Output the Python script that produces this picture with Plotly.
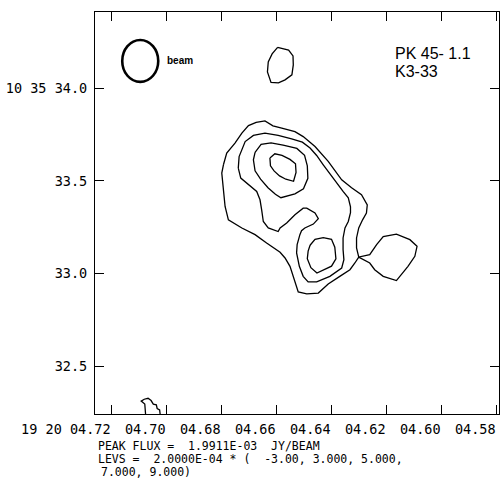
import plotly.graph_objects as go

# ---------------- axis data ----------------
ra_ticks = [4.72, 4.70, 4.68, 4.66, 4.64, 4.62, 4.60, 4.58]
ra_ticktext = ["19 20 04.72", "04.70", "04.68", "04.66", "04.64", "04.62", "04.60", "04.58"]
dec_ticks = [34.0, 33.5, 33.0, 32.5]
dec_ticktext = ["10 35 34.0", "33.5", "33.0", "32.5"]
ra_range = [4.7261, 4.5792]      # RA seconds (19h20m), east to the left
dec_range = [32.2424, 34.4111]   # Dec arcsec (+10d35m)

# ---------------- contour paths (RA s, Dec ") ----------------
# 3 sigma, main source incl. eastern knot touching it
c3_main_ra = [4.6794, 4.6782, 4.6752, 4.6727, 4.6703, 4.6675, 4.6643, 4.6614, 4.6582, 4.6534,
              4.6504, 4.6461, 4.6413, 4.6364, 4.6328, 4.6292, 4.6271, 4.6274, 4.6288, 4.6302,
              4.6310, 4.6310, 4.6302,
              4.6262, 4.6237, 4.6213, 4.6165, 4.6116, 4.6090, 4.6098, 4.6123, 4.6165, 4.6213,
              4.6244, 4.6262, 4.6292, 4.6302,
              4.6316, 4.6334, 4.6371, 4.6413, 4.6449, 4.6491, 4.6522, 4.6530, 4.6540, 4.6552,
              4.6570, 4.6588, 4.6637, 4.6679, 4.6727, 4.6776, 4.6788, 4.6794, 4.6800, 4.6794]
c3_main_dec = [33.587, 33.650, 33.704, 33.758, 33.798, 33.816, 33.824, 33.797, 33.784, 33.766,
               33.739, 33.685, 33.605, 33.506, 33.463, 33.425, 33.371, 33.327, 33.290, 33.246,
               33.192, 33.138, 33.089,
               33.102, 33.156, 33.200, 33.213, 33.183, 33.147, 33.093, 33.039, 32.962, 32.985,
               33.021, 33.057, 33.080, 33.089,
               33.057, 33.021, 32.985, 32.944, 32.895, 32.890, 32.901, 32.940, 32.985, 33.039,
               33.084, 33.115, 33.165, 33.210, 33.246, 33.290, 33.362, 33.452, 33.542, 33.587]

# 3 sigma, small island north
c3_north_ra = [4.6597, 4.6557, 4.6541, 4.6540, 4.6545, 4.6570, 4.6594, 4.6621, 4.6634, 4.6631, 4.6617, 4.6597]
c3_north_dec = [34.220, 34.206, 34.174, 34.126, 34.072, 34.045, 34.029, 34.031, 34.088, 34.142, 34.185, 34.220]

# 3 sigma, open island at the southern map edge
c3_edge_ra = [4.7077, 4.7080, 4.7093, 4.7082, 4.7068, 4.7057, 4.7049, 4.7038, 4.7035, 4.7026, 4.7024]
c3_edge_dec = [32.240, 32.296, 32.312, 32.322, 32.327, 32.315, 32.296, 32.292, 32.272, 32.264, 32.240]

# 5 sigma
c5_ra = [4.6740, 4.6737, 4.6715, 4.6685, 4.6643, 4.6595, 4.6546, 4.6507, 4.6479, 4.6455,
         4.6431, 4.6407, 4.6383, 4.6359, 4.6340, 4.6332, 4.6332, 4.6340, 4.6352, 4.6359,
         4.6359, 4.6356, 4.6364, 4.6407, 4.6455, 4.6486, 4.6504, 4.6518, 4.6528, 4.6526,
         4.6516, 4.6510, 4.6498, 4.6467, 4.6449, 4.6461, 4.6491, 4.6504, 4.6534, 4.6564,
         4.6588, 4.6595, 4.6631, 4.6649, 4.6655, 4.6661, 4.6673, 4.6703, 4.6731, 4.6740]
c5_dec = [33.569, 33.631, 33.712, 33.745, 33.758, 33.745, 33.727, 33.709, 33.677, 33.637,
          33.587, 33.537, 33.488, 33.443, 33.409, 33.360, 33.328, 33.281, 33.246, 33.192,
          33.129, 33.075, 33.030, 32.985, 32.955, 32.955, 32.985, 33.039, 33.111, 33.156,
          33.210, 33.231, 33.246, 33.267, 33.296, 33.327, 33.353, 33.353, 33.317, 33.273,
          33.246, 33.227, 33.246, 33.281, 33.344, 33.398, 33.443, 33.479, 33.515, 33.569]

# 7 sigma, northern peak
c7_north_ra = [4.6679, 4.6657, 4.6621, 4.6577, 4.6527, 4.6499, 4.6489, 4.6487, 4.6503,
               4.6534, 4.6585, 4.6605, 4.6632, 4.6659, 4.6679, 4.6685, 4.6679]
c7_north_dec = [33.654, 33.697, 33.705, 33.693, 33.675, 33.638, 33.581, 33.514, 33.457,
                33.430, 33.409, 33.428, 33.463, 33.509, 33.554, 33.614, 33.654]

# 7 sigma, southern peak
c7_south_ra = [4.6479, 4.6461, 4.6431, 4.6401, 4.6389, 4.6385, 4.6401, 4.6438, 4.6454,
               4.6476, 4.6489, 4.6486, 4.6479]
c7_south_dec = [33.153, 33.185, 33.194, 33.185, 33.142, 33.080, 33.040, 33.013, 33.003,
                33.032, 33.080, 33.121, 33.153]

# 9 sigma, northern peak
c9_ra = [4.6625, 4.6607, 4.6581, 4.6552, 4.6532, 4.6530, 4.6539, 4.6567, 4.6590, 4.6610, 4.6623, 4.6625]
c9_dec = [33.624, 33.646, 33.638, 33.616, 33.592, 33.546, 33.498, 33.509, 33.527, 33.554, 33.581, 33.624]

# beam (RA s, Dec ")
beam_ra = [4.7162, 4.7031]
beam_dec = [34.034, 34.260]
beam_label_pos = [4.7006, 34.147]

source_name = ["PK 45- 1.1", "K3-33"]
footer = ["PEAK FLUX =  1.9911E-03  JY/BEAM",
          "LEVS =  2.0000E-04 * (  -3.00, 3.000, 5.000,",
          "7.000, 9.000)"]

contours = [
    (c3_main_ra, c3_main_dec), (c3_north_ra, c3_north_dec), (c3_edge_ra, c3_edge_dec),
    (c5_ra, c5_dec), (c7_north_ra, c7_north_dec), (c7_south_ra, c7_south_dec), (c9_ra, c9_dec),
]

fig = go.Figure()
for ra, dec in contours:
    fig.add_trace(go.Scatter(x=ra, y=dec, mode="lines",
                             line=dict(color="black", width=1.3),
                             hoverinfo="skip", showlegend=False))

fig.add_shape(type="circle", xref="x", yref="y",
              x0=beam_ra[0], x1=beam_ra[1], y0=beam_dec[0], y1=beam_dec[1],
              line=dict(color="black", width=2.6))

fig.add_annotation(x=beam_label_pos[0], y=beam_label_pos[1], xref="x", yref="y",
                   text="<b>beam</b>", showarrow=False, xanchor="left", yanchor="middle",
                   font=dict(family="Liberation Sans", size=10, color="black"))

fig.add_annotation(x=0.737, y=0.898, xref="paper", yref="paper", text=source_name[0],
                   showarrow=False, xanchor="left", yanchor="middle",
                   font=dict(family="Liberation Sans", size=16, color="black"))
fig.add_annotation(x=0.737, y=0.851, xref="paper", yref="paper", text=source_name[1],
                   showarrow=False, xanchor="left", yanchor="middle",
                   font=dict(family="Liberation Sans", size=16, color="black"))

foot_font = dict(family="DejaVu Sans Mono", size=11.5, color="black")
foot_y = [-0.0807, -0.1130, -0.1453]
foot_x = [0.004, 0.004, 0.013]
for txt, fx, fy in zip(footer, foot_x, foot_y):
    fig.add_annotation(x=fx, y=fy, xref="paper", yref="paper", text=txt.replace(" ", "&nbsp;"),
                       showarrow=False, xanchor="left", yanchor="middle", font=foot_font,
                       borderpad=0)

axis_common = dict(showgrid=False, zeroline=False, showline=True, linecolor="black", linewidth=1.3,
                   mirror="allticks", ticks="inside", ticklen=9, tickwidth=1.2, tickcolor="black",
                   tickfont=dict(family="DejaVu Sans Mono", size=13.5, color="black"))

fig.update_xaxes(range=ra_range, tickmode="array", tickvals=ra_ticks, ticktext=ra_ticktext,
                 ticklabelposition="outside left", ticklabelstandoff=3, tickangle=0, **axis_common)
fig.update_yaxes(range=dec_range, tickmode="array", tickvals=dec_ticks, ticktext=dec_ticktext,
                 ticklabelstandoff=4, **axis_common)

fig.update_layout(width=504, height=482, paper_bgcolor="white", plot_bgcolor="white",
                  margin=dict(l=95, r=4.5, t=12, b=67.5), showlegend=False)

fig.write_html("out.html", config={"displayModeBar": False},
               post_script="document.body.style.margin='0';")
